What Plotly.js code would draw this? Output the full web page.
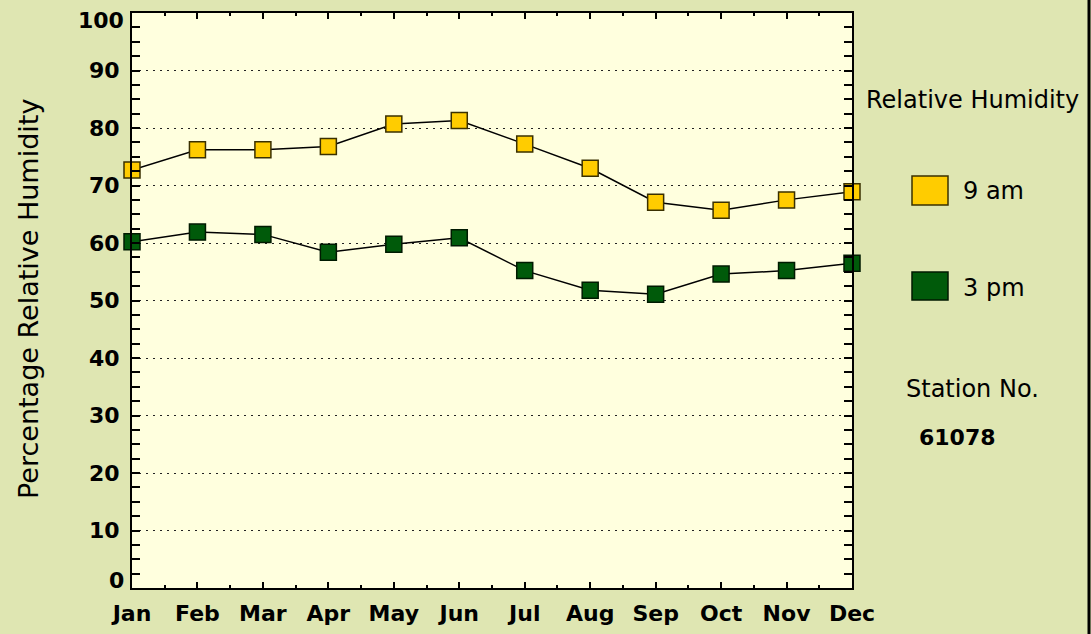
<!DOCTYPE html>
<html>
<head>
<meta charset="utf-8">
<script src="https://cdn.plot.ly/plotly-3.0.1.min.js"></script>
<style>html,body{margin:0;padding:0;background:#DFE6B2;}#chart{width:1091px;height:634px;}</style>
</head>
<body>
<div id="chart"></div>
<script>
const months = ["Jan","Feb","Mar","Apr","May","Jun","Jul","Aug","Sep","Oct","Nov","Dec"];
const rh9am = [72.7, 76.2, 76.2, 76.8, 80.7, 81.3, 77.2, 73.0, 67.1, 65.7, 67.5, 68.9];
const rh3pm = [60.2, 61.9, 61.5, 58.4, 59.8, 60.9, 55.2, 51.8, 51.1, 54.6, 55.2, 56.5];
const yTicks = [0,10,20,30,40,50,60,70,80,90,100];
const seriesNames = ["9 am", "3 pm"];
const legendTitle = "Relative Humidity";
const yTitle = "Percentage Relative Humidity";
const stationLabel = "Station No.";
const stationNo = "61078";

const L = 132, R = 852, T = 13, B = 588;
const px = x => (x - L) / (R - L);
const py = y => (B - y) / (B - T);

const idx = months.map((m, i) => i);
const fam = "DejaVu Sans, Verdana, sans-serif";
const regFont = s => ({family: fam, size: s, color: "#000"});
const boldFont = s => ({family: fam, size: s, color: "#000", weight: "bold"});

// inner tick labels (end labels are nudged inward, drawn as annotations)
const yTickText = yTicks.map((v, i) => (i === 0 || i === yTicks.length - 1) ? "" : String(v));

const traces = [
  {x: idx, y: rh9am, name: seriesNames[0], mode: "lines+markers", cliponaxis: false,
   line: {color: "#000", width: 1.5},
   marker: {symbol: "square", size: 16, color: "#FFCC00", line: {color: "#3a3000", width: 1.5}}},
  {x: idx, y: rh3pm, name: seriesNames[1], mode: "lines+markers", cliponaxis: false,
   line: {color: "#000", width: 1.5},
   marker: {symbol: "square", size: 16, color: "#005A0A", line: {color: "#001a00", width: 1.5}}}
];

const layout = {
  width: 1091, height: 634,
  margin: {l: L, r: 1091 - R, t: T, b: 634 - B, pad: 0},
  paper_bgcolor: "#DFE6B2",
  plot_bgcolor: "#FFFFDE",
  showlegend: false,
  xaxis: {
    range: [0, 11], tickvals: idx, ticktext: months,
    showgrid: false, zeroline: false,
    showline: true, linecolor: "#000", linewidth: 2, mirror: "ticks",
    ticks: "inside", ticklen: 6, tickwidth: 2, tickcolor: "#000",
    minor: {dtick: 0.5, tick0: 0.5, ticks: "inside", ticklen: 3, tickwidth: 2, tickcolor: "#000"},
    tickfont: boldFont(22),
    ticklabelstandoff: 5,
    fixedrange: true
  },
  yaxis: {
    range: [0, 100], tickvals: yTicks, ticktext: yTickText,
    showgrid: true, gridcolor: "#222", gridwidth: 1, griddash: "2px,5px",
    zeroline: false,
    showline: true, linecolor: "#000", linewidth: 2, mirror: "ticks",
    ticks: "inside", ticklen: 8, tickwidth: 2, tickcolor: "#000",
    minor: {dtick: 2.5, tick0: 0, ticks: "inside", ticklen: 8, tickwidth: 2, tickcolor: "#000", showgrid: false},
    tickfont: boldFont(22),
    ticklabelstandoff: 6,
    fixedrange: true
  },
  shapes: [
    {type: "line", xref: "paper", yref: "paper", x0: px(1089), x1: px(1089), y0: py(-5), y1: py(640), line: {color: "#000", width: 3}},
    {type: "rect", xref: "paper", yref: "paper", x0: px(912), x1: px(948), y0: py(205), y1: py(176), fillcolor: "#FFCC00", line: {color: "#3a3000", width: 1.5}},
    {type: "rect", xref: "paper", yref: "paper", x0: px(912), x1: px(948), y0: py(300), y1: py(272), fillcolor: "#005A0A", line: {color: "#001a00", width: 1.5}}
  ],
  annotations: [
    {xref: "paper", yref: "paper", x: px(126), y: py(580), text: String(yTicks[0]), showarrow: false, xanchor: "right", yanchor: "middle", font: boldFont(22)},
    {xref: "paper", yref: "paper", x: px(126), y: py(21), text: String(yTicks[yTicks.length - 1]), showarrow: false, xanchor: "right", yanchor: "middle", font: boldFont(22)},
    {xref: "paper", yref: "paper", x: px(28), y: py(299), text: yTitle, textangle: -90, showarrow: false, xanchor: "center", yanchor: "middle", font: regFont(27)},
    {xref: "paper", yref: "paper", x: px(972), y: py(100), text: legendTitle, showarrow: false, xanchor: "center", yanchor: "middle", font: regFont(24)},
    {xref: "paper", yref: "paper", x: px(961), y: py(191), text: seriesNames[0], showarrow: false, xanchor: "left", yanchor: "middle", font: regFont(24)},
    {xref: "paper", yref: "paper", x: px(961), y: py(288), text: seriesNames[1], showarrow: false, xanchor: "left", yanchor: "middle", font: regFont(24)},
    {xref: "paper", yref: "paper", x: px(972), y: py(389), text: stationLabel, showarrow: false, xanchor: "center", yanchor: "middle", font: regFont(24)},
    {xref: "paper", yref: "paper", x: px(957), y: py(437), text: stationNo, showarrow: false, xanchor: "center", yanchor: "middle", font: boldFont(22)}
  ]
};

Plotly.newPlot("chart", traces, layout, {displayModeBar: false, staticPlot: true});
</script>
</body>
</html>
